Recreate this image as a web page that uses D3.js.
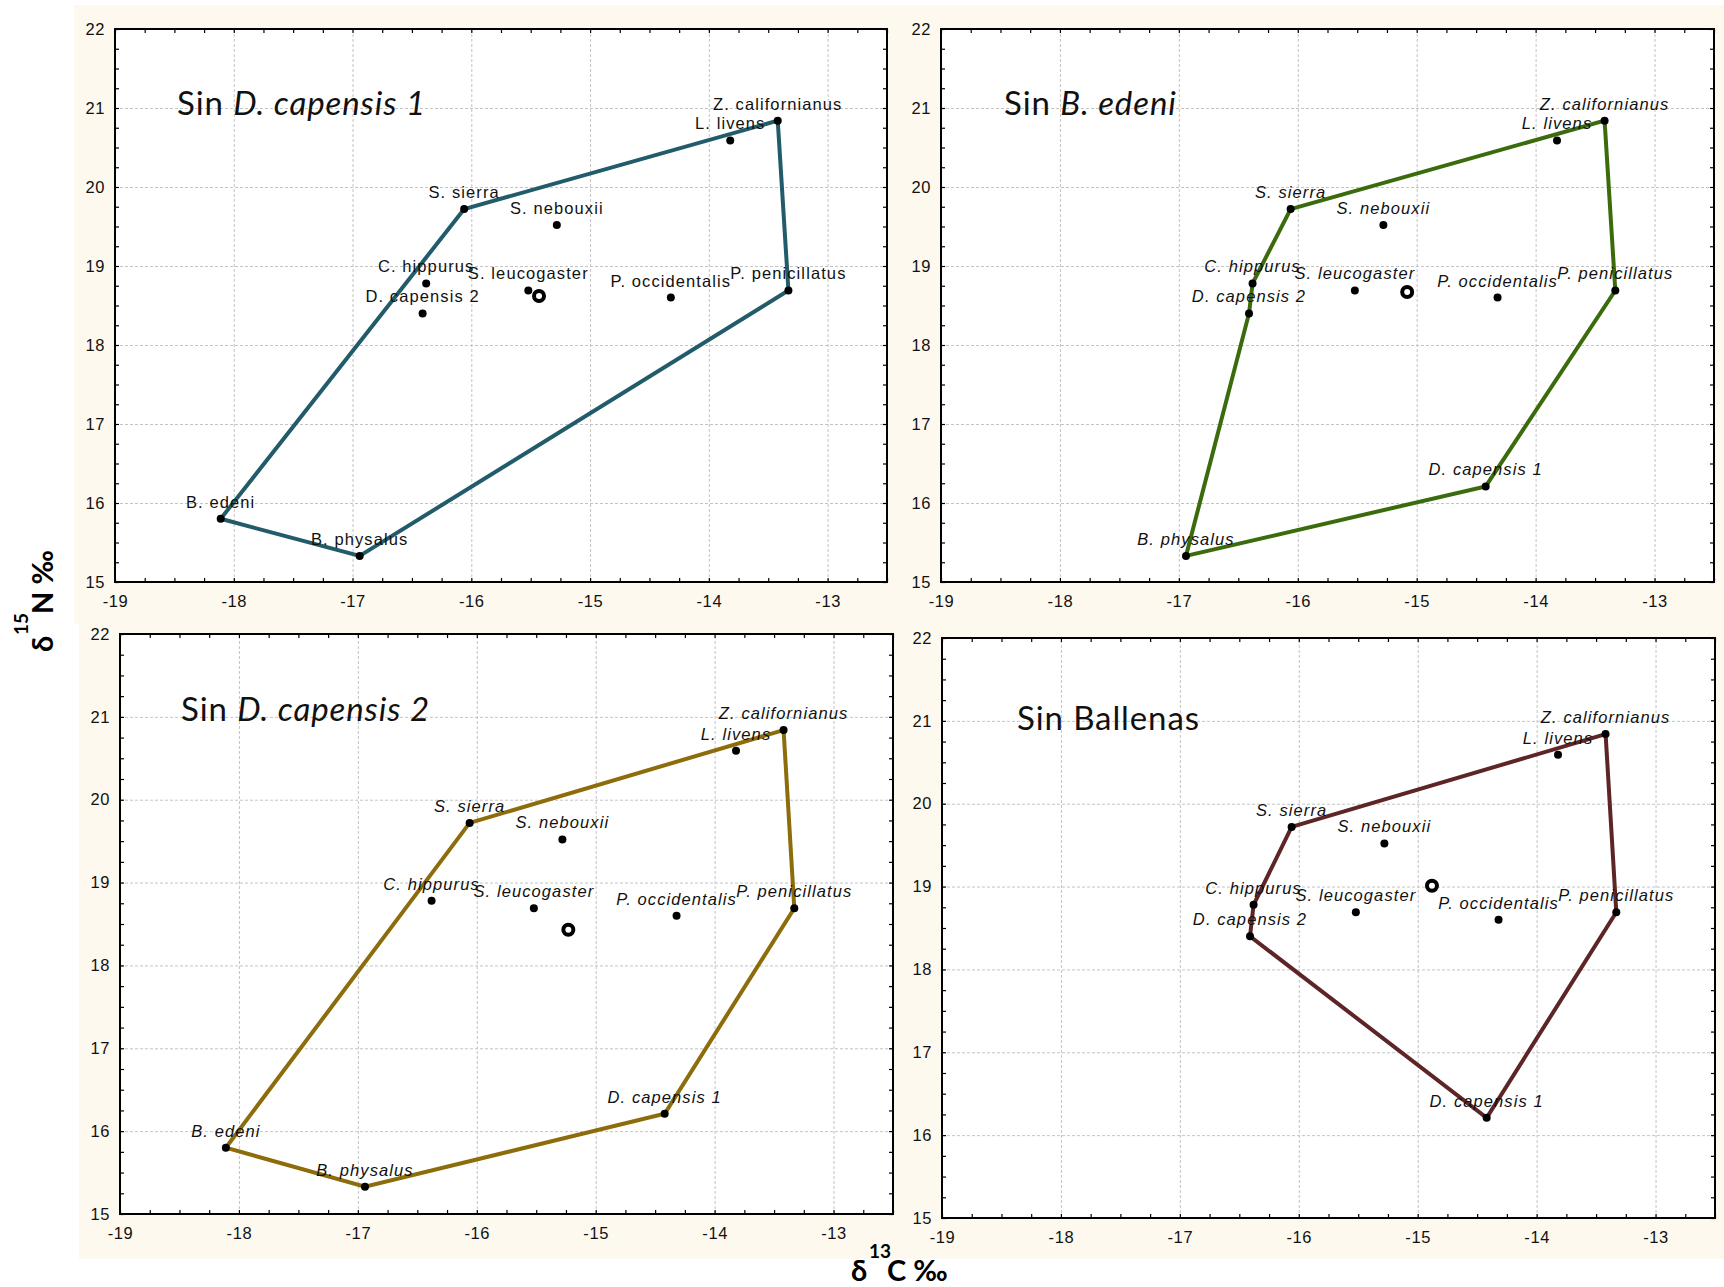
<!DOCTYPE html>
<html><head><meta charset="utf-8">
<script src="https://cdn.jsdelivr.net/npm/d3@7"></script>
<style>body{margin:0;background:#fff}</style>
</head><body><svg id="c" width="1724" height="1287"></svg>
<script>
// ---- data ----
const species = ["Z. californianus","L. livens","S. sierra","S. nebouxii","C. hippurus","S. leucogaster","D. capensis 2","P. occidentalis","P. penicillatus","B. edeni","B. physalus","D. capensis 1"];
const d13C = [-13.42,-13.82,-16.06,-15.28,-16.38,-15.52,-16.41,-14.32,-13.33,-18.11,-16.94,-14.42];
const d15N = [20.84,20.59,19.72,19.52,18.78,18.69,18.40,18.60,18.69,15.80,15.33,16.21];
const panelTitlePlain = ["Sin ","Sin ","Sin ","Sin Ballenas"];
const panelTitleItalic = ["D. capensis 1","B. edeni","D. capensis 2",""];
const panelExcluded = [["D. capensis 1"],["B. edeni"],["D. capensis 2"],["B. edeni","B. physalus"]];
const hullOrder = [
  ["S. sierra","Z. californianus","P. penicillatus","B. physalus","B. edeni"],
  ["S. sierra","Z. californianus","P. penicillatus","D. capensis 1","B. physalus","D. capensis 2","C. hippurus"],
  ["S. sierra","Z. californianus","P. penicillatus","D. capensis 1","B. physalus","B. edeni"],
  ["S. sierra","Z. californianus","P. penicillatus","D. capensis 1","D. capensis 2","C. hippurus"]
];
const centroidC = [-15.43,-15.08,-15.23,-14.88];
const centroidN = [18.62,18.67,18.43,19.01];
const hullColors = ["#225b6a","#3c6b0d","#8d6c0b","#5e2526"];
const labelItalic = [false,true,true,true];
const xTicks = [-19,-18,-17,-16,-15,-14,-13];
const yTicks = [15,16,17,18,19,20,21,22];
const xDomain = [-19,-12.5];
const yDomain = [15,22];

// ---- layout ----
const frames = [
  {x0:115,x1:887,y0:29,y1:582,tx:177,ty:115},
  {x0:941,x1:1714,y0:29,y1:582,tx:1004,ty:115},
  {x0:120,x1:893,y0:634,y1:1214,tx:181,ty:721},
  {x0:942,x1:1715,y0:638,y1:1218,tx:1017,ty:730}
];
const svg = d3.select("#c");
svg.append("rect").attr("x",74).attr("y",5).attr("width",1650).attr("height",619).attr("fill","#fdf9ef");
svg.append("rect").attr("x",79).attr("y",624).attr("width",1645).attr("height",635).attr("fill","#fdf9ef");

const pts = species.map((s,i)=>({name:s,c:d13C[i],n:d15N[i]}));
const minor = d3.range(-19,-12.5+1e-9,0.25);
const minorY = d3.range(15,22+1e-9,0.25);
const labelFont = "'Liberation Sans', Arial, sans-serif";

frames.forEach((f,pi)=>{
  const x = d3.scaleLinear().domain(xDomain).range([f.x0,f.x1]);
  const y = d3.scaleLinear().domain(yDomain).range([f.y1,f.y0]);
  const g = svg.append("g");
  g.append("rect").attr("x",f.x0).attr("y",f.y0).attr("width",f.x1-f.x0).attr("height",f.y1-f.y0).attr("fill","#fff");
  // grid
  const gx = g.append("g").attr("transform",`translate(0,${f.y1})`)
    .call(d3.axisBottom(x).tickValues(xTicks.slice(1)).tickSize(-(f.y1-f.y0)).tickFormat(""));
  const gy = g.append("g").attr("transform",`translate(${f.x0},0)`)
    .call(d3.axisLeft(y).tickValues(yTicks.slice(1,-1)).tickSize(-(f.x1-f.x0)).tickFormat(""));
  [gx,gy].forEach(a=>{a.select(".domain").remove();
    a.selectAll("line").attr("stroke","#c4c4c4").attr("stroke-width",1).attr("stroke-dasharray","3,2");});
  // minor/inward ticks
  const tk = [
    g.append("g").attr("transform",`translate(0,${f.y1})`).call(d3.axisBottom(x).tickValues(minor).tickSize(-4).tickFormat("")),
    g.append("g").attr("transform",`translate(0,${f.y0})`).call(d3.axisTop(x).tickValues(minor).tickSize(-4).tickFormat("")),
    g.append("g").attr("transform",`translate(${f.x0},0)`).call(d3.axisLeft(y).tickValues(minorY).tickSize(-4).tickFormat("")),
    g.append("g").attr("transform",`translate(${f.x1},0)`).call(d3.axisRight(y).tickValues(minorY).tickSize(-4).tickFormat(""))
  ];
  tk.forEach(a=>{a.select(".domain").remove(); a.selectAll("line").attr("stroke","#000").attr("stroke-width",1.2);});
  // tick labels
  const lx = g.append("g").attr("transform",`translate(0,${f.y1})`)
    .call(d3.axisBottom(x).tickValues(xTicks).tickSize(0).tickPadding(13).tickFormat(d3.format("d")));
  const ly = g.append("g").attr("transform",`translate(${f.x0},0)`)
    .call(d3.axisLeft(y).tickValues(yTicks).tickSize(0).tickPadding(10).tickFormat(d3.format("d")));
  [lx,ly].forEach(a=>{a.select(".domain").remove();
    a.selectAll("text").attr("font-family",labelFont).attr("font-size",16.5).attr("fill","#111").attr("letter-spacing","0.6px");});
  lx.selectAll("text").text(d=>String(d).replace("−","-"));
  // frame
  g.append("rect").attr("x",f.x0).attr("y",f.y0).attr("width",f.x1-f.x0).attr("height",f.y1-f.y0)
    .attr("fill","none").attr("stroke","#000").attr("stroke-width",2);
  // title
  const t = g.append("text").attr("x",f.tx).attr("y",f.ty)
    .attr("font-family","Lato, 'Open Sans', sans-serif").attr("font-size",33).attr("letter-spacing","0.9px").attr("fill","#111");
  t.append("tspan").text(panelTitlePlain[pi]);
  if (panelTitleItalic[pi]) t.append("tspan").attr("font-style","italic").text(panelTitleItalic[pi]);
  // hull
  const byName = new Map(pts.map(p=>[p.name,p]));
  const hull = hullOrder[pi].map(n=>byName.get(n));
  g.append("path").datum(hull)
    .attr("d",d3.line().x(p=>x(p.c)).y(p=>y(p.n)).curve(d3.curveLinearClosed))
    .attr("fill","none").attr("stroke",hullColors[pi]).attr("stroke-width",4).attr("stroke-linejoin","miter");
  // points
  const shown = pts.filter(p=>!panelExcluded[pi].includes(p.name));
  g.selectAll("circle.pt").data(shown).enter().append("circle").attr("class","pt")
    .attr("cx",p=>x(p.c)).attr("cy",p=>y(p.n)).attr("r",4).attr("fill","#000");
  g.selectAll("text.lb").data(shown).enter().append("text").attr("class","lb")
    .attr("x",p=>x(p.c)).attr("y",p=>y(p.n)-11).attr("text-anchor","middle")
    .attr("font-family",labelFont).attr("font-size",16.5).attr("letter-spacing","1.1px")
    .attr("font-style",labelItalic[pi]?"italic":"normal").attr("fill","#111").text(p=>p.name);
  // centroid
  g.append("circle").attr("cx",x(centroidC[pi])).attr("cy",y(centroidN[pi])).attr("r",5)
    .attr("fill","#fff").attr("stroke","#000").attr("stroke-width",4);
});

// axis titles
const af = "Lato, 'Open Sans', sans-serif";
const bt = svg.append("g");
bt.append("text").attr("x",851).attr("y",1281).attr("font-family",af).attr("font-weight","bold").attr("font-size",29).text("δ");
bt.append("text").attr("x",869).attr("y",1258).attr("font-family",af).attr("font-weight","bold").attr("font-size",19).text("13");
bt.append("text").attr("x",887).attr("y",1281).attr("font-family",af).attr("font-weight","bold").attr("font-size",29).text("C ‰");
const lt = svg.append("g").attr("transform","translate(53,652) rotate(-90)");
lt.append("text").attr("x",0).attr("y",0).attr("font-family",af).attr("font-weight","bold").attr("font-size",29).text("δ");
lt.append("text").attr("x",17).attr("y",-25).attr("font-family",af).attr("font-weight","bold").attr("font-size",19).text("15");
lt.append("text").attr("x",38).attr("y",0).attr("font-family",af).attr("font-weight","bold").attr("font-size",29).text("N ‰");
</script></body></html>
